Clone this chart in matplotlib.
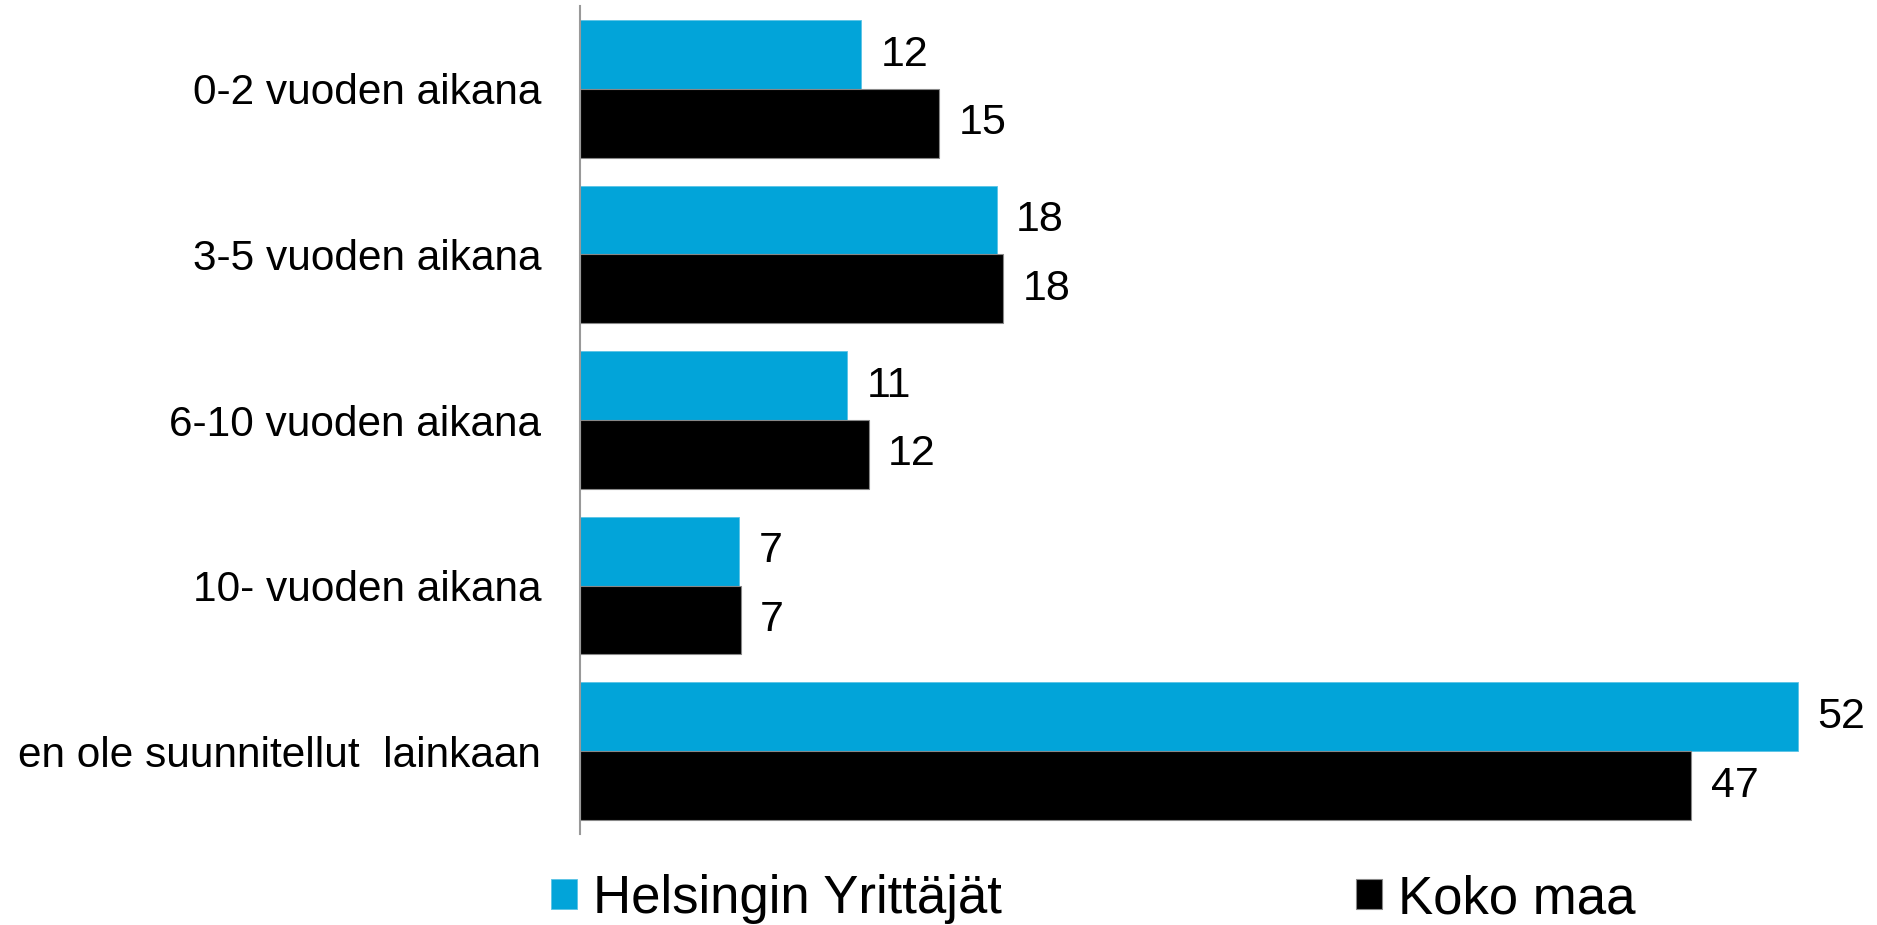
import matplotlib.pyplot as plt
import numpy as np

plt.rcParams['font.family'] = ['Liberation Sans', 'DejaVu Sans']

categories = ['0-2 vuoden aikana', '3-5 vuoden aikana', '6-10 vuoden aikana',
              '10- vuoden aikana', 'en ole suunnitellut  lainkaan']
helsinki = [11.96, 17.73, 11.37, 6.77, 51.84]
koko_maa = [15.28, 18.01, 12.29, 6.84, 47.29]
series_names = ['Helsingin Yrittäjät', 'Koko maa']

blue = '#02A4D9'
h = 0.415

fig = plt.figure(figsize=(18.77, 9.25), dpi=100)
ax = fig.add_axes([0.309, 0.0984, 0.691, 0.895])

y = np.arange(len(categories))
b1 = ax.barh(y - h / 2, helsinki, height=h, color=blue, edgecolor='#5ac3e6', linewidth=0.6)
b2 = ax.barh(y + h / 2, koko_maa, height=h, color='black', edgecolor='#888888', linewidth=0.8)

for bars, vals in ((b1, helsinki), (b2, koko_maa)):
    for rect, v in zip(bars, vals):
        ax.annotate(f'{round(v)}', (rect.get_width(), rect.get_y() + rect.get_height() / 2),
                    xytext=(14, 0), textcoords='offset points', va='center', ha='left',
                    fontsize=31, clip_on=False)

ax.set_xlim(0, 55.2)
ax.set_ylim(4.5, -0.5)
ax.set_yticks(y)
ax.set_yticklabels(categories, fontsize=30.5)
ax.tick_params(axis='y', length=0, pad=28)
ax.set_xticks([])
for s in ('top', 'right', 'bottom'):
    ax.spines[s].set_visible(False)
ax.spines['left'].set_color('#999999')
ax.spines['left'].set_linewidth(1.5)

fig.legend([b1, b2], series_names, loc='center left', bbox_to_anchor=(0.2936, 0.028),
           ncol=2, frameon=False, fontsize=38, handlelength=0.5, handleheight=0.5,
           handletextpad=0.3, columnspacing=6.7, borderpad=0, borderaxespad=0)

fig.savefig('out.png', dpi=100)
